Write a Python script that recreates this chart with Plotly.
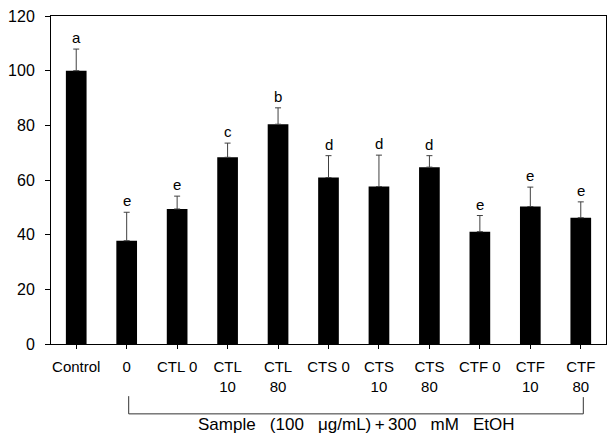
import plotly.graph_objects as go

categories = ["Control", "0", "CTL 0", "CTL<br>10", "CTL<br>80", "CTS 0",
              "CTS<br>10", "CTS<br>80", "CTF 0", "CTF<br>10", "CTF<br>80"]
values = [100.0, 37.8, 49.4, 68.3, 80.4, 60.9, 57.6, 64.7, 41.1, 50.3, 46.2]
errors = [7.9, 10.4, 4.7, 5.2, 6.0, 8.0, 11.5, 4.2, 5.9, 7.1, 5.8]
letters = ["a", "e", "e", "c", "b", "d", "d", "d", "e", "e", "e"]
y_ticks = [0, 20, 40, 60, 80, 100, 120]
gap = "\u00a0\u00a0\u00a0"
x_title = f"Sample{gap}(100{gap}\u03bcg/mL)\u2009+\u2009300{gap}mM{gap}EtOH"

FONT = "Arial, Liberation Sans, sans-serif"
idx = list(range(len(categories)))

fig = go.Figure()
fig.add_trace(go.Bar(
    x=idx, y=values, width=0.41,
    marker=dict(color="black", line=dict(width=0)),
    error_y=dict(type="data", symmetric=False, array=errors,
                 arrayminus=[0] * len(errors),
                 color="#404040", thickness=1, width=3),
    showlegend=False,
))

for i, (v, e, t) in enumerate(zip(values, errors, letters)):
    fig.add_annotation(x=i, y=v + e, text=t, showarrow=False,
                       xref="x", yref="y", yanchor="bottom", yshift=1,
                       font=dict(family=FONT, size=15, color="black"))

# bracket under samples
x0, x1 = 1 + 0.04, len(categories) - 1 + 0.05
fig.add_shape(type="path", xref="x", yref="paper",
              path=f"M {x0} -0.159 L {x0} -0.213 L {x1} -0.213 L {x1} -0.162",
              line=dict(color="#333", width=1))
fig.add_annotation(x=(x0 + x1) / 2, y=-0.245, xref="x", yref="paper",
                   text=x_title, showarrow=False, yanchor="middle",
                   font=dict(family=FONT, size=17, color="black"))

fig.update_layout(
    width=611, height=436,
    margin=dict(l=51, r=5, t=16, b=92),
    plot_bgcolor="white", paper_bgcolor="white",
    font=dict(family=FONT, size=15, color="black"),
    xaxis=dict(tickmode="array", tickvals=idx, ticktext=categories,
               range=[-0.5, len(categories) - 0.5],
               showline=True, linecolor="black", linewidth=1, mirror=True,
               ticks="outside", ticklen=4, tickcolor="black",
               tickson="boundaries", showgrid=False, zeroline=False,
               tickangle=0, ticklabelstandoff=5,
               tickfont=dict(family=FONT, size=15)),
    yaxis=dict(range=[0, 120], tickvals=y_ticks,
               showline=True, linecolor="black", linewidth=1, mirror=True,
               ticks="outside", ticklen=5, tickcolor="black",
               showgrid=False, zeroline=False, ticklabelstandoff=7,
               tickfont=dict(family=FONT, size=16)),
)

fig.write_html("out.html")
